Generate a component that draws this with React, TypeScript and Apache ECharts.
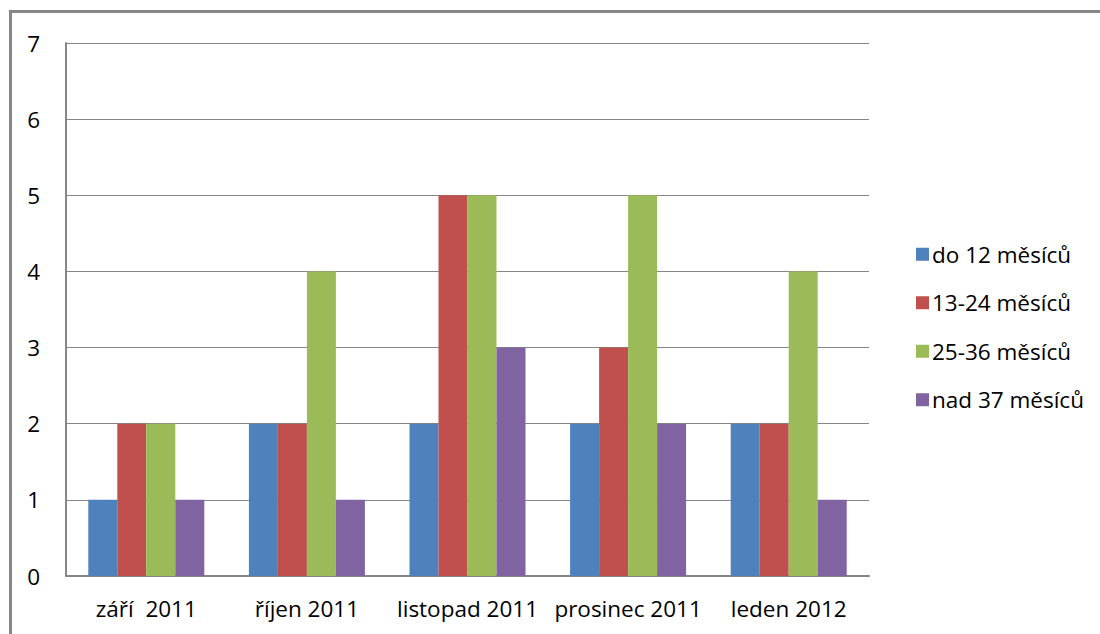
import React, { useEffect, useRef } from "react";
import * as echarts from "echarts";

const categories = ["září  2011", "říjen 2011", "listopad 2011", "prosinec 2011", "leden 2012"];
const seriesNames = ["do 12 měsíců", "13-24 měsíců", "25-36 měsíců", "nad 37 měsíců"];
const do12 = [1, 2, 2, 2, 2];
const m13_24 = [2, 2, 5, 3, 2];
const m25_36 = [2, 4, 5, 5, 4];
const nad37 = [1, 1, 3, 2, 1];
const colors = ["#4F81BD", "#C0504D", "#9BBB59", "#8064A2"];

export default function App() {
  const ref = useRef<HTMLDivElement>(null);
  useEffect(() => {
    document.body.style.margin = "0";
    const chart = echarts.init(ref.current!, null, { renderer: "svg" });
    const values = [do12, m13_24, m25_36, nad37];
    const font = "'Open Sans', Lato, sans-serif";
    const fs = 22.5;
    chart.setOption({
      animation: false,
      backgroundColor: "#ffffff",
      textStyle: { fontFamily: font },
      graphic: [
        {
          type: "rect",
          shape: { x: 10.5, y: 11.5, width: 1200, height: 700 },
          style: { fill: "none", stroke: "#868686", lineWidth: 3 },
          silent: true,
        },
      ],
      grid: { left: 66, top: 43, right: 231, bottom: 58, containLabel: false },
      legend: {
        orient: "vertical",
        left: 911,
        top: 256 - fs / 2 - 7,
        itemWidth: 13,
        itemHeight: 13,
        itemGap: 48 - fs,
        icon: "rect",
        textStyle: { fontSize: fs, color: "#000", fontFamily: font, padding: [0, 0, 0, -2] },
        data: seriesNames,
      },
      xAxis: {
        type: "category",
        data: categories,
        axisLine: { show: true, lineStyle: { color: "#868686", width: 2 } },
        axisTick: { show: false },
        axisLabel: { fontSize: fs, color: "#000", margin: 21, fontFamily: font, interval: 0, hideOverlap: false },
        splitLine: { show: false },
      },
      yAxis: {
        type: "value",
        min: 0,
        max: 7,
        interval: 1,
        axisLine: { show: true, lineStyle: { color: "#868686", width: 2 } },
        axisTick: { show: false },
        axisLabel: { fontSize: fs, color: "#000", margin: 26, fontFamily: font },
        splitLine: { show: true, lineStyle: { color: "#868686", width: 1 } },
      },
      series: seriesNames.map((name, i) => ({
        name,
        type: "bar",
        data: values[i],
        barWidth: 29,
        barGap: "0%",
        itemStyle: { color: colors[i] },
      })),
    });
    return () => chart.dispose();
  }, []);
  return <div ref={ref} style={{ width: 1100, height: 634, position: "absolute", left: 0, top: 0 }} />;
}
